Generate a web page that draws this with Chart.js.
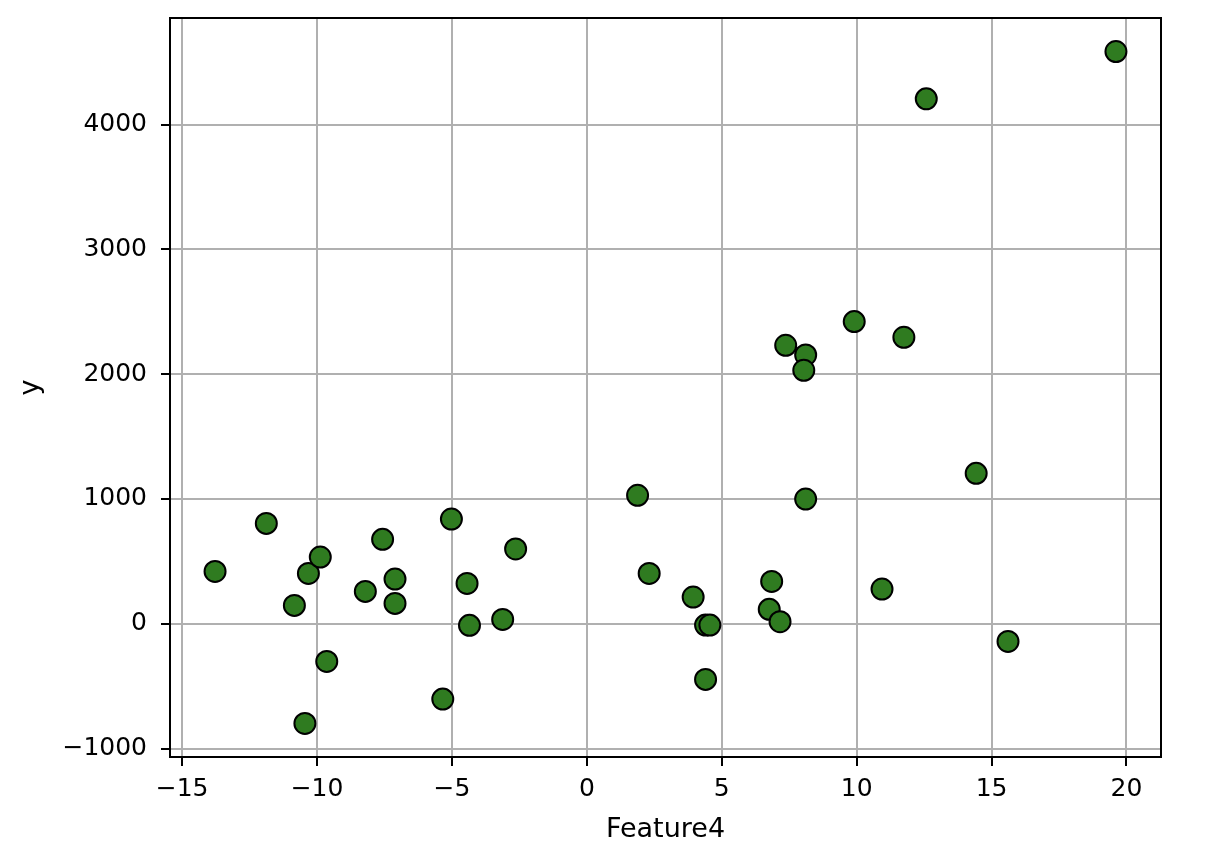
<!DOCTYPE html>
<html>
<head>
<meta charset="utf-8">
<script src="https://cdn.jsdelivr.net/npm/chart.js@4/dist/chart.umd.min.js"></script>
<style>
  html, body { margin: 0; padding: 0; background: #fff; }
  #wrap { width: 1210px; height: 854px; }
</style>
</head>
<body>
<div id="wrap"><canvas id="c" width="1210" height="854"></canvas></div>
<script>
const featureX = [-13.78, -11.88, -10.84, -10.32, -9.88, -10.45, -9.64, -8.21, -7.57, -7.11, -7.11, -5.34, -5.02, -4.44, -4.35, -3.12, -2.64, 1.88, 2.31, 3.94, 4.40, 4.56, 4.40, 6.85, 6.76, 7.16, 7.37, 8.11, 8.04, 8.11, 9.91, 10.94, 11.75, 12.58, 14.43, 15.61, 19.61];
const targetY = [419, 804, 147, 403, 534, -799, -302, 259, 676, 358, 163, -604, 839, 323, -13, 34, 599, 1029, 403, 214, -11, -11, -446, 339, 115, 16, 2231, 2154, 2031, 999, 2421, 278, 2295, 4206, 1205, -142, 4585];
const xTickValues = [-15, -10, -5, 0, 5, 10, 15, 20];
const yTickValues = [-1000, 0, 1000, 2000, 3000, 4000];
const xAxisLabel = 'Feature4';
const yAxisLabel = 'y';

const points = featureX.map((x, i) => ({ x: x, y: targetY[i] }));

const fmt = v => (v < 0 ? '\u2212' + Math.abs(v) : String(v));

const frame = {
  id: 'frame',
  afterDraw(chart) {
    const { ctx, chartArea: a } = chart;
    ctx.save();
    ctx.strokeStyle = '#000';
    ctx.lineWidth = 2;
    ctx.strokeRect(a.left, a.top, a.right - a.left, a.bottom - a.top);
    ctx.restore();
  }
};

Chart.defaults.font.family = "'DejaVu Sans', sans-serif";
Chart.defaults.color = '#000';

new Chart(document.getElementById('c'), {
  type: 'scatter',
  data: {
    datasets: [{
      data: points,
      backgroundColor: '#2f7b20',
      borderColor: '#000',
      borderWidth: 2,
      pointRadius: 10.5,
      pointHoverRadius: 10.5
    }]
  },
  options: {
    responsive: false,
    animation: false,
    events: [],
    layout: { padding: { top: 18, right: 49, left: 0, bottom: 0 } },
    plugins: { legend: { display: false }, tooltip: { enabled: false } },
    scales: {
      x: {
        type: 'linear',
        min: -15.45,
        max: 21.28,
        z: 1,
        afterFit(s) { s.height = 97; s.paddingLeft = 0; s.paddingRight = 0; },
        afterBuildTicks(s) { s.ticks = xTickValues.map(v => ({ value: v })); },
        grid: { color: '#b0b0b0', lineWidth: 2, drawTicks: true, tickLength: 9, tickColor: '#000', tickWidth: 2 },
        border: { display: false },
        ticks: { font: { size: 25 }, padding: 8, maxRotation: 0, autoSkip: false, callback: v => fmt(v) },
        title: { display: true, text: xAxisLabel, font: { size: 27 }, padding: { top: 0, bottom: 8 } }
      },
      y: {
        type: 'linear',
        min: -1068,
        max: 4854,
        z: 1,
        afterFit(s) { s.width = 170; s.paddingTop = 0; s.paddingBottom = 0; },
        afterBuildTicks(s) { s.ticks = yTickValues.map(v => ({ value: v })); },
        grid: { color: '#b0b0b0', lineWidth: 2, drawTicks: true, tickLength: 9, tickColor: '#000', tickWidth: 2 },
        border: { display: false },
        ticks: { font: { size: 25 }, padding: 14, autoSkip: false, callback: v => fmt(v) },
        title: { display: true, text: yAxisLabel, font: { size: 27 }, padding: { top: 15, bottom: 0 } }
      }
    }
  },
  plugins: [frame]
});
</script>
</body>
</html>
